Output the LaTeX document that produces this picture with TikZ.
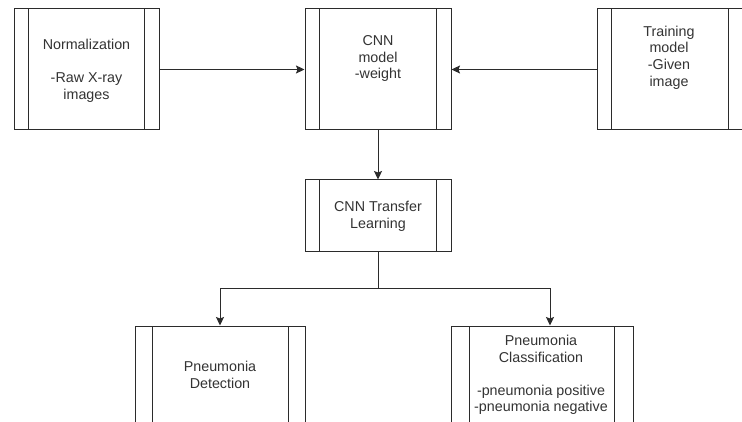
\documentclass[tikz,border=0pt]{standalone}
\usepackage{fontspec}
\setmainfont{Liberation Sans}
\usetikzlibrary{calc,arrows.meta}
\definecolor{txt}{HTML}{333333}
\definecolor{ln}{HTML}{2B2B2B}
\tikzset{
  procbox/.style={draw=ln, line width=1pt, fill=white, inner sep=0pt,
    path picture={
      \draw[ln, line width=1pt] ($(path picture bounding box.north west)+(#1,0)$) -- ($(path picture bounding box.south west)+(#1,0)$);
      \draw[ln, line width=1pt] ($(path picture bounding box.north east)-(#1,0)$) -- ($(path picture bounding box.south east)-(#1,0)$);
    }},
  lbl/.style={text=txt, align=center, font=\fontsize{14.3pt}{16.6pt}\selectfont, inner sep=0pt},
  arr/.style={draw=ln, line width=1pt, -{Stealth[length=8.5pt,width=8pt,inset=1.5pt]}},
  conn/.style={draw=ln, line width=1pt}
}
\begin{document}
\begin{tikzpicture}[x=1pt,y=-1pt]
\useasboundingbox (0,0) rectangle (742,422);
\clip (0,0) rectangle (742,422);
\fill[white] (0,0) rectangle (742,422);
% boxes
\node[procbox=14.6pt, minimum width=145pt, minimum height=121pt] (norm) at (86.5,69.5) {};
\node[procbox=14.6pt, minimum width=146pt, minimum height=121pt] (cnn) at (378,69.5) {};
\node[procbox=14.6pt, minimum width=146pt, minimum height=121pt] (train) at (670,69.5) {};
\node[procbox=14.6pt, minimum width=146pt, minimum height=72pt] (transfer) at (378,216) {};
\node[procbox=17pt, minimum width=170pt, minimum height=121pt] (detect) at (220,386.5) {};
\node[procbox=18.2pt, minimum width=182pt, minimum height=121pt] (classif) at (542,386.5) {};
% labels
\node[lbl] (normT) at (86.5,71) {Normalization\\[16.6pt]-Raw X-ray\\images};
\node[lbl] (cnnT) at (378,58.5) {CNN\\model\\-weight};
\node[lbl] (trainT) at (669,57.5) {Training\\model\\-Given\\image};
\node[lbl] (transferT) at (378,216.5) {CNN Transfer\\Learning};
\node[lbl] (detectT) at (220,375) {Pneumonia\\Detection};
\node[lbl] (classifT) at (541,375) {Pneumonia\\Classification\\[16.6pt]-pneumonia positive\\-pneumonia negative};
% connectors
\coordinate (split) at (378,289);
\draw[arr] (norm.east) -- (cnn.west);
\draw[arr] (train.west) -- (cnn.east);
\draw[arr] (cnn.south) -- (transfer.north);
\draw[conn] (transfer.south) -- (split);
\draw[arr] (split) -| (detect.north);
\draw[arr] (split) -| ([xshift=8pt]classif.north);
\end{tikzpicture}
\end{document}
